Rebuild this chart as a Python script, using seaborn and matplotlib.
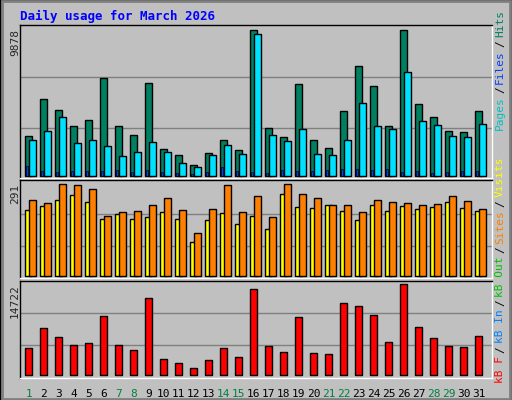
import numpy as np
import matplotlib.pyplot as plt
import seaborn as sns
from matplotlib.patches import Rectangle

sns.set_style("white")
plt.rcParams["font.family"] = ["DejaVu Sans Mono", "DejaVu Sans"]

days = list(range(1, 32))
weekend_days = [1, 7, 8, 14, 15, 21, 22, 28, 29]
hits = [2694, 5231, 4445, 3412, 3772, 6645, 3368, 2761, 6308, 1796, 1414, 741, 1527, 2469, 1751, 9878,
        3233, 2627, 6241, 2469, 1863, 4378, 7453, 6106, 3412, 9878, 4894, 4019, 3076, 3008, 4423]
files = [2469, 3076, 4019, 2200, 2469, 1998, 1325, 1594, 2267, 1594, 853, 584, 1392, 2065, 1459, 9608,
         2806, 2335, 3210, 1459, 1392, 2469, 4961, 3412, 3210, 7049, 3749, 3480, 2739, 2672, 3547]
pages = [674, 337, 269, 337, 337, 337, 404, 269, 404, 269, 202, 135, 269, 606, 337, 269,
         202, 404, 337, 337, 404, 471, 471, 404, 471, 269, 337, 202, 269, 337, 337]
visits = [240, 231, 291, 288, 275, 190, 202, 206, 225, 247, 209, 136, 212, 288, 202, 253,
          187, 291, 259, 247, 225, 225, 202, 240, 234, 231, 225, 228, 253, 237, 212]
sites = [209, 221, 240, 256, 234, 180, 196, 180, 187, 202, 180, 108, 177, 199, 164, 190,
         149, 259, 218, 215, 225, 206, 177, 225, 206, 221, 212, 218, 234, 215, 206]
kbytes = [4368, 7604, 6148, 4854, 5177, 9546, 4854, 4045, 12458, 2589, 1941, 1133, 2427, 4368, 2912, 13914,
          4692, 3721, 9384, 3559, 3398, 11649, 11164, 9708, 5339, 14722, 7766, 5986, 4692, 4530, 6310]

W, H = 512, 400
fig = plt.figure(figsize=(W / 100, H / 100), dpi=100)
fig.patch.set_facecolor("#C0C0C0")
fig.patches.append(Rectangle((0, 0), 1, 1, transform=fig.transFigure, fill=False,
                             edgecolor="black", linewidth=2))
fig.patches.append(Rectangle((0.003, 0.003), 0.994, 0.994, transform=fig.transFigure, fill=False,
                             edgecolor="#808080", linewidth=2))


def px_axes(x0, y0, x1, y1):
    return fig.add_axes([x0 / W, 1 - y1 / H, (x1 - x0) / W, (y1 - y0) / H])


d = np.array(days, dtype=float)
XL = (0.667, 0.667 + 472 / 15)
edge = dict(edgecolor="black", linewidth=1)


def style(ax, mx, lo, hi):
    ax.set_facecolor("#C0C0C0")
    ax.set_xlim(*XL)
    ax.set_ylim(lo * mx, hi * mx)
    for g in (0.33, 0.68):
        ax.axhline(g * mx, color="#808080", linewidth=1, zorder=0)
    ax.set_xticks([])
    ax.set_yticks([])
    for s in ("left", "top"):
        ax.spines[s].set_color("black")
    for s in ("right", "bottom"):
        ax.spines[s].set_color("white")
    for s in ax.spines.values():
        s.set_linewidth(1)


ax1 = px_axes(20, 25, 492, 178)
ax1.bar(d, hits, width=0.47, align="edge", color="#008060", zorder=2, **edge)
ax1.bar(d + 0.27, files, width=0.47, align="edge", color="#00E0FF", zorder=3, **edge)
ax1.bar(d + 0.05, pages, width=0.13, align="edge", color="#0040FF", zorder=4, edgecolor="black", linewidth=0.5)
style(ax1, max(hits), -0.014, 1.035)

ax2 = px_axes(20, 180, 492, 278)
ax2.bar(d, sites, width=0.47, align="edge", color="#FFFF00", zorder=2, **edge)
ax2.bar(d + 0.27, visits, width=0.47, align="edge", color="#FF8000", zorder=3, **edge)
style(ax2, max(visits), -0.018, 1.047)

ax3 = px_axes(20, 281, 492, 378)
ax3.bar(d, kbytes, width=0.47, align="edge", color="#FF0000", zorder=2, **edge)
style(ax3, max(kbytes), -0.03, 1.036)

for x, dd in zip(d, days):
    ax3.text(x + 0.25, -0.11, str(dd), transform=ax3.get_xaxis_transform(), ha="center", va="top",
             fontsize=8, color="#008040" if dd in weekend_days else "black")

fig.text(20 / W, 1 - 16 / H, "Daily usage for March 2026", color="#0000FF", fontsize=9,
         fontweight="bold", va="center", ha="left")
for ax, mx, y in ((ax1, max(hits), 29), (ax2, max(visits), 184), (ax3, max(kbytes), 284)):
    fig.text(15 / W, 1 - y / H, str(mx), rotation=90, ha="center", va="top", fontsize=8)

fig.canvas.draw()
renderer = fig.canvas.get_renderer()


def stack(parts, y_start):
    y = y_start
    for txt, col in parts:
        t = fig.text(500 / W, 1 - y / H, txt, rotation=90, ha="center", va="bottom",
                     fontsize=8, color=col)
        bb = t.get_window_extent(renderer)
        y -= bb.height + 3


stack([("Pages", "#00C0C0"), ("/", "black"), ("Files", "#0040FF"), ("/", "black"), ("Hits", "#008060")], 130)
stack([("kB F", "#FF0000"), ("/", "black"), ("kB In", "#0080FF"), ("/", "black"), ("kB Out", "#00C000"),
       ("/", "black"), ("Sites", "#FF8000"), ("/", "black"), ("Visits", "#FFFF00")], 383)

fig.savefig("out.png", dpi=100, facecolor=fig.get_facecolor())
